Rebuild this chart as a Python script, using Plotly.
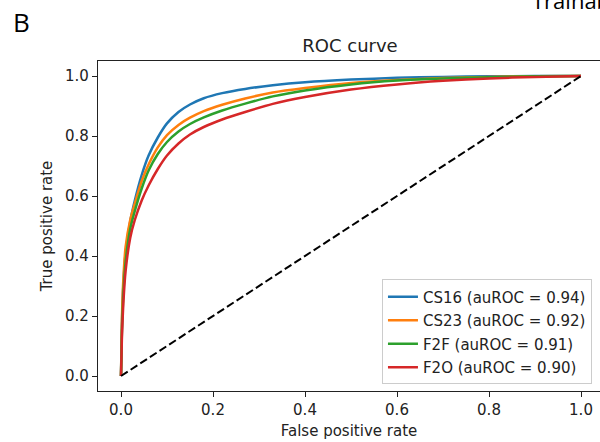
import plotly.graph_objects as go

# ---- data ----
fpr_grid = [0, 0.002, 0.005, 0.01, 0.02, 0.03, 0.045, 0.06, 0.08, 0.10, 0.125, 0.15,
            0.18, 0.22, 0.27, 0.33, 0.40, 0.50, 0.60, 0.70, 0.80, 0.90, 1.0]

cs16_tpr = [0, 0.17, 0.30, 0.41, 0.515, 0.585, 0.670, 0.735, 0.795, 0.842, 0.880, 0.905,
            0.926, 0.943, 0.957, 0.969, 0.979, 0.988, 0.994, 0.997, 0.999, 1.0, 1.0]
cs23_tpr = [0, 0.19, 0.32, 0.43, 0.52, 0.575, 0.650, 0.705, 0.762, 0.803, 0.837, 0.861,
            0.883, 0.904, 0.925, 0.945, 0.960, 0.977, 0.987, 0.993, 0.997, 0.999, 1.0]
f2f_tpr = [0, 0.15, 0.27, 0.38, 0.49, 0.55, 0.625, 0.685, 0.740, 0.780, 0.815, 0.840,
           0.862, 0.885, 0.908, 0.932, 0.952, 0.972, 0.985, 0.992, 0.996, 0.999, 1.0]
f2o_tpr = [0, 0.13, 0.24, 0.35, 0.46, 0.52, 0.585, 0.635, 0.690, 0.735, 0.775, 0.805,
           0.830, 0.855, 0.880, 0.907, 0.930, 0.955, 0.972, 0.984, 0.992, 0.997, 1.0]

series_names = ["CS16 (auROC = 0.94)", "CS23 (auROC = 0.92)", "F2F (auROC = 0.91)", "F2O (auROC = 0.90)"]
series_colors = ["#1f77b4", "#ff7f0e", "#2ca02c", "#d62728"]
diag = [0, 1]
tick_vals = [0.0, 0.2, 0.4, 0.6, 0.8, 1.0]

fig = go.Figure()
for name, color, ty, grp in zip(series_names, series_colors,
                                [cs16_tpr, cs23_tpr, f2f_tpr, f2o_tpr],
                                ["a", "b", "c", "d"]):
    fig.add_trace(go.Scatter(x=fpr_grid, y=ty, mode="lines", name=name, legendgroup=grp,
                             line=dict(color=color, width=2.5, shape="spline", smoothing=0.6)))
fig.add_trace(go.Scatter(x=diag, y=diag, mode="lines", showlegend=False,
                         line=dict(color="black", width=2, dash="8px,3.5px")))

axis_common = dict(
    showline=True, linecolor="#222", linewidth=1.3,
    ticks="outside", ticklen=5, tickwidth=1.2, tickcolor="#222",
    tickvals=tick_vals, tickformat=".1f",
    showgrid=False, zeroline=False,
    tickfont=dict(family="DejaVu Sans", size=15, color="#222"),
)

fig.update_layout(
    width=600, height=442,
    margin=dict(l=98, r=0, t=61, b=51),
    paper_bgcolor="white", plot_bgcolor="white",
    font=dict(family="DejaVu Sans", size=15, color="#222"),
    xaxis=dict(range=[-0.05, 1.0413], mirror=True,
               title=dict(text="False positive rate", font=dict(size=15), standoff=7),
               **axis_common),
    yaxis=dict(range=[-0.05, 1.05],
               title=dict(text="True positive rate", font=dict(size=15), standoff=8),
               **axis_common),
    title=dict(text="ROC curve", x=350 / 600, xanchor="center",
               y=1 - 46 / 442, yanchor="middle",
               font=dict(family="DejaVu Sans", size=18, color="#222")),
    legend=dict(x=0.984, xanchor="right", y=0.02, yanchor="bottom",
                bgcolor="white", bordercolor="#cccccc", borderwidth=1,
                font=dict(family="DejaVu Sans", size=15, color="#222"),
                tracegroupgap=1),
    showlegend=True,
)

fig.add_annotation(text="B", xref="paper", yref="paper",
                   x=(11 - 98) / 502, xanchor="left",
                   y=(391 - 22) / 330, yanchor="middle",
                   showarrow=False, font=dict(family="Open Sans", size=26, color="black"))
fig.add_annotation(text="Trainab", xref="paper", yref="paper",
                   x=(530 - 98) / 502, xanchor="left",
                   y=(391 - 0) / 330, yanchor="middle",
                   showarrow=False, font=dict(family="Open Sans", size=22, color="black"))

fig.write_html("out.html")
